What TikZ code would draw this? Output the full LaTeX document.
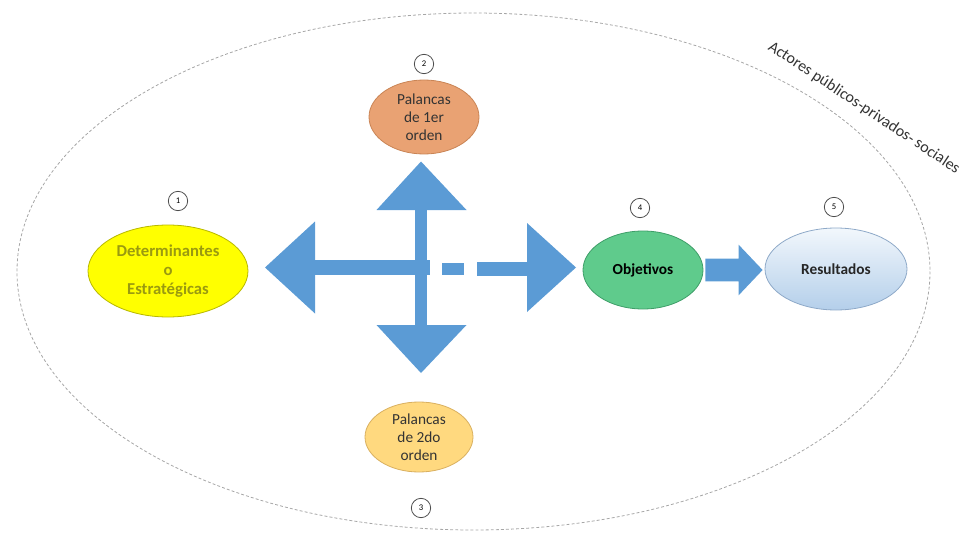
\documentclass[tikz,border=0pt]{standalone}
\usepackage{fontspec}
\setmainfont{Carlito}
\usetikzlibrary{shapes.geometric,calc}
\definecolor{arrowblue}{HTML}{5B9BD5}
\definecolor{dashgray}{HTML}{A6A6A6}
\definecolor{yelfill}{HTML}{FFFF00}
\definecolor{yelline}{HTML}{B8B800}
\definecolor{yeltext}{HTML}{9A9A10}
\definecolor{orfill}{HTML}{E9A273}
\definecolor{orline}{HTML}{C98455}
\definecolor{lyfill}{HTML}{FFD97F}
\definecolor{lyline}{HTML}{D9B060}
\definecolor{grfill}{HTML}{5FCB8C}
\definecolor{grline}{HTML}{3E9E68}
\definecolor{blfilltop}{HTML}{F2F7FC}
\definecolor{blfillbot}{HTML}{B4CFEA}
\definecolor{blline}{HTML}{8EA9C8}
\begin{document}
\begin{tikzpicture}[x=0.75pt,y=-0.75pt,
  blobnode/.style={ellipse,inner sep=0pt,align=center,line width=0.6pt},
  numnode/.style={circle,draw=black!70,fill=white,line width=0.6pt,minimum size=14.5pt,inner sep=0pt,font=\fontsize{6.5}{7}\selectfont},
  blockarrow/.style={fill=arrowblue,draw=none}]
\useasboundingbox (0,0) rectangle (965,535);
% outer dashed ellipse
\draw[dashgray,line width=0.6pt,dash pattern=on 2.2pt off 1.6pt] (473.5,271.5) ellipse [x radius=456.5, y radius=258.5];
\node[rotate=-33.5,text=black!80,font=\fontsize{12}{13}\selectfont,inner sep=0pt] (actores) at (864,108) {Actores públicos-privados- sociales};
% main nodes
\node[blobnode,draw=yelline,fill=yelfill,text=yeltext,minimum width=120pt,minimum height=69pt,font=\fontsize{12.5}{14.3}\selectfont\bfseries] (det) at (168,271) {Determinantes\\o\\Estratégicas};
\node[blobnode,draw=orline,fill=orfill,text=black!80,minimum width=82.5pt,minimum height=55.5pt,font=\fontsize{11.5}{13.3}\selectfont] (pal1) at (424,117) {Palancas\\de 1er\\orden};
\node[blobnode,draw=lyline,fill=lyfill,text=black!80,minimum width=81pt,minimum height=52.5pt,font=\fontsize{11.5}{13.3}\selectfont] (pal2) at (419,437) {Palancas\\de 2do\\orden};
\node[blobnode,draw=grline,fill=grfill,text=black,minimum width=90pt,minimum height=58.5pt,font=\fontsize{11.5}{13}\selectfont\bfseries] (obj) at (643,270) {Objetivos};
\node[blobnode,draw=blline,top color=blfilltop,bottom color=blfillbot,text=black!85,minimum width=106.5pt,minimum height=61.5pt,font=\fontsize{11.5}{13}\selectfont\bfseries] (res) at (836,269) {Resultados};
% number circles
\node[numnode] (n1) at (178,201) {1};
\node[numnode] (n2) at (424,64) {2};
\node[numnode] (n3) at (421,508) {3};
\node[numnode] (n4) at (640,208) {4};
\node[numnode] (n5) at (834,207) {5};
% central cross of block arrows
\coordinate (cc) at (421,267);
\fill[blockarrow] (415,210) rectangle (427,325);
\fill[blockarrow] (315,260) rectangle (430,275);
\fill[blockarrow] (376.5,210) -- (421,161.5) -- (466.5,210) -- cycle;
\fill[blockarrow] (376.5,325) -- (421,373) -- (466.5,325) -- cycle;
\fill[blockarrow] (315,221.5) -- (265,267.5) -- (315,313.5) -- cycle;
\fill[blockarrow] (442,262.5) rectangle (463.5,274.5);
\fill[blockarrow] (477,261.5) rectangle (527,275.5);
\fill[blockarrow] (527,223) -- (576,267.5) -- (527,312) -- cycle;
% arrow Objetivos -> Resultados
\fill[blockarrow] let \p1=(obj.east), \p2=(res.west) in
  (\x1+1.5pt,\y1+8.5pt) -- (\x2-19.5pt,\y1+8.5pt) -- (\x2-19.5pt,\y1+19pt) -- (\x2-1.5pt,\y1) --
  (\x2-19.5pt,\y1-19pt) -- (\x2-19.5pt,\y1-8.5pt) -- (\x1+1.5pt,\y1-8.5pt) -- cycle;
\end{tikzpicture}
\end{document}
